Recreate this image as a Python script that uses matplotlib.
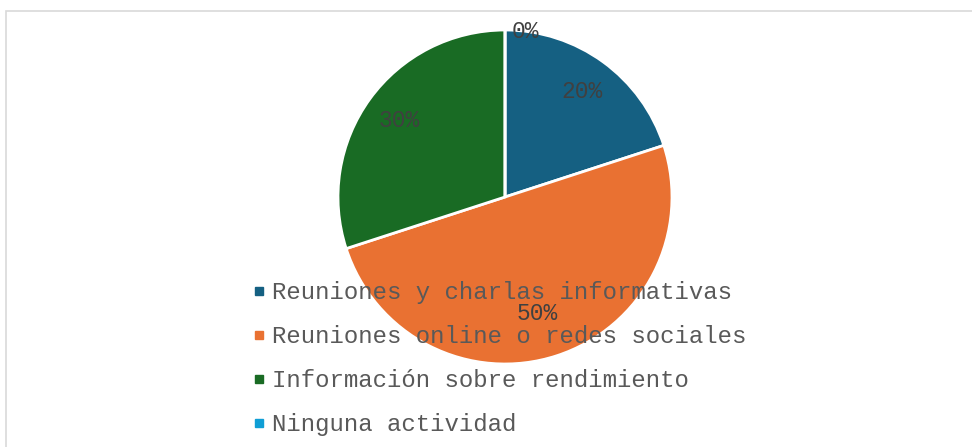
import matplotlib.pyplot as plt
from matplotlib.lines import Line2D
from matplotlib.patches import Rectangle

categorias = ["Reuniones y charlas informativas",
              "Reuniones online o redes sociales",
              "Información sobre rendimiento",
              "Ninguna actividad"]
valores = [20, 50, 30, 0]
colores = ["#156082", "#E97132", "#196B24", "#0F9ED5"]

W, H = 972, 447
fig = plt.figure(figsize=(W / 100, H / 100), dpi=100)

# marco gris claro del grafico
fig.patches.append(Rectangle((5.5 / W, -0.1), 1.2, (H - 10.5) / H + 0.1,
                             transform=fig.transFigure, fill=False,
                             edgecolor="#D9D9D9", linewidth=1.2))

cx, cy, r = 505, 197, 167
ax = fig.add_axes([(cx - r) / W, (H - cy - r) / H, 2 * r / W, 2 * r / H])

wedges, texts, autotexts = ax.pie(
    valores, colors=colores, startangle=90, counterclock=False,
    autopct="%1.0f%%", pctdistance=0.78,
    wedgeprops=dict(edgecolor="white", linewidth=2),
    textprops=dict(family="Liberation Mono", fontsize=16.5, color="#404040"))
ax.set_xlim(-1, 1)
ax.set_ylim(-1, 1)
ax.set_aspect("equal")

# etiquetas colocadas como en el original
autotexts[3].set_position((0.12, 0.99))
autotexts[1].set_position((0.19, -0.70))

handles = [Line2D([], [], linestyle="none", marker="s", markersize=6,
                  markerfacecolor=c, markeredgecolor=c) for c in colores]
leg = fig.legend(handles, categorias, loc="upper left",
                 bbox_to_anchor=(252 / W, (H - 281) / H),
                 frameon=False, borderpad=0, borderaxespad=0,
                 handlelength=0.6, handletextpad=0.25, labelspacing=0.88,
                 prop=dict(family="Liberation Mono", size=17.3))
for t in leg.get_texts():
    t.set_color("#595959")

fig.savefig("out.png", dpi=100)
